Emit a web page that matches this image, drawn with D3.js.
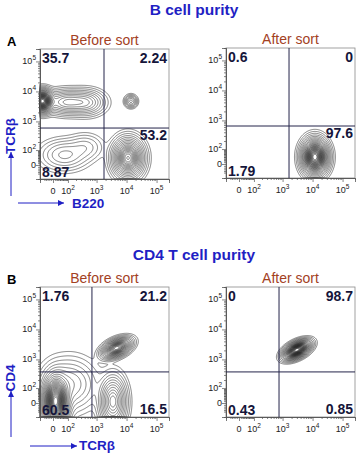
<!doctype html>
<html>
<head>
<meta charset="utf-8"/>
<script src="https://cdn.jsdelivr.net/npm/d3@7"></script>
<style>
body{margin:0;background:#fff;}
svg{display:block;font-family:"Liberation Sans",Arial,sans-serif;}
</style>
</head>
<body>
<svg width="361" height="455"></svg>
<script>
// logicle-like display: asinh axis, one decade ~ 30px
var C = 70.6
function T(v) { return Math.asinh(v / C) / Math.LN10 }

var titles = ["B cell purity", "CD4 T cell purity"]
var rowLetters = ["A", "B"]
var sortLabels = ["Before sort", "After sort"]
var xNames = ["B220", "TCR\u03b2"]
var yNames = ["TCR\u03b2", "CD4"]

var majorTicks = [0, 1e2, 1e3, 1e4, 1e5]
var tickLabels = [["0"], ["10", "2"], ["10", "3"], ["10", "4"], ["10", "5"]]

// gates [x, y] in fluorescence units
var gateA1 = [1770, 600]
var gateA2 = [1640, 650]
var gateB1 = [700, 380]
var gateB2 = [760, 380]

// quadrant % : upper-left, upper-right, lower-right, lower-left
var quadA1 = ["35.7", "2.24", "53.2", "8.87"]
var quadA2 = ["0.6", "0", "97.6", "1.79"]
var quadB1 = ["1.76", "21.2", "16.5", "60.5"]
var quadB2 = ["0", "98.7", "0.85", "0.43"]

// populations: centre (x, y), spread in decades (sx, sy), correlation r, weight w
var popsA1 = [
  {x: -63, y: 4760, sx: 0.16, sy: 0.17, r: 0, w: 1.0},
  {x: 90, y: 4400, sx: 0.36, sy: 0.19, r: 0, w: 0.5},
  {x: 450, y: 4300, sx: 0.3, sy: 0.2, r: 0, w: 0.3},
  {x: 14000, y: 4700, sx: 0.1, sy: 0.1, r: 0, w: 0.035},
  {x: 11200, y: 40, sx: 0.24, sy: 0.3, r: 0, w: 1.5},
  {x: 70, y: 60, sx: 0.4, sy: 0.25, r: 0, w: 0.25},
  {x: 420, y: 130, sx: 0.3, sy: 0.22, r: 0, w: 0.08}
]
var popsA2 = [
  {x: 12000, y: 40, sx: 0.2, sy: 0.27, r: 0, w: 1.0}
]
var popsB1 = [
  {x: 14, y: 8, sx: 0.2, sy: 0.4, r: 0, w: 1.4},
  {x: 110, y: 140, sx: 0.45, sy: 0.42, r: 0, w: 0.3},
  {x: 3500, y: 8, sx: 0.21, sy: 0.4, r: 0, w: 0.45},
  {x: 4700, y: 2400, sx: 0.22, sy: 0.15, r: 0.45, w: 0.33}
]
var popsB2 = [
  {x: 3000, y: 2080, sx: 0.2, sy: 0.14, r: 0.5, w: 1.0}
]

var levels = [0.003, 0.007, 0.014, 0.025, 0.04, 0.06, 0.085, 0.115, 0.15]
  .concat(d3.range(0.19, 0.98, 0.04))

var svg = d3.select("svg")
var W = 129, H = 130
var xs = d3.scaleLinear().domain([-13 / 30, (W - 13) / 30]).range([0, W])
var ys = d3.scaleLinear().domain([-14 / 30, (H - 14) / 30]).range([H, 0])

var minorTicks = []
for (var k = 1; k <= 4; k++) for (var m = 2; m <= 9; m++) minorTicks.push(m * Math.pow(10, k))
;[-10, -20, -30, -40, -50, 10, 20, 30, 40, 50, 60, 70, 80, 90].forEach(v => minorTicks.push(v))

var panels = [
  {x0: 40, y0: 49, gate: gateA1, quad: quadA1, pops: popsA1, row: 0},
  {x0: 226, y0: 48, gate: gateA2, quad: quadA2, pops: popsA2, row: 0},
  {x0: 40, y0: 287, gate: gateB1, quad: quadB1, pops: popsB1, row: 1},
  {x0: 226, y0: 287, gate: gateB2, quad: quadB2, pops: popsB2, row: 1}
]

function density(pops) {
  var kk = 2, nx = W * kk, ny = H * kk
  var vals = new Float64Array(nx * ny)
  var cl = pops.map(c => ({mx: T(c.x), my: T(c.y), sx: c.sx, sy: c.sy, r: c.r,
    a: c.w / (2 * Math.PI * c.sx * c.sy * Math.sqrt(1 - c.r * c.r))}))
  for (var j = 0; j < ny; j++) {
    var ty = ys.invert((j + 0.5) / kk)
    for (var i = 0; i < nx; i++) {
      var tx = xs.invert((i + 0.5) / kk), s = 0
      cl.forEach(c => {
        var dx = (tx - c.mx) / c.sx, dy = (ty - c.my) / c.sy
        var q = (dx * dx - 2 * c.r * dx * dy + dy * dy) / (1 - c.r * c.r)
        s += c.a * Math.exp(-q / 2)
      })
      vals[j * nx + i] = s
    }
  }
  var mx = d3.max(vals)
  return d3.contours().size([nx, ny]).thresholds(levels.map(l => l * mx))(vals)
}

panels.forEach(p => {
  var g = svg.append("g").attr("transform", "translate(" + p.x0 + "," + p.y0 + ")")

  g.append("g").selectAll("path")
    .data(density(p.pops))
    .join("path")
    .attr("d", d3.geoPath(d3.geoIdentity().scale(0.5)))
    .attr("fill", "none")
    .attr("stroke", "#1c1c1c")
    .attr("stroke-width", 0.55)

  g.append("rect").attr("width", W).attr("height", H)
    .attr("fill", "none").attr("stroke", "#8a8a8a").attr("stroke-width", 0.8)

  // axes
  var inX = v => T(v) >= xs.domain()[0] && T(v) <= xs.domain()[1]
  var inY = v => T(v) >= ys.domain()[0] && T(v) <= ys.domain()[1]
  var ax1 = g.append("g").attr("transform", "translate(0," + H + ")")
    .call(d3.axisBottom(xs).tickValues(majorTicks.map(T)).tickSize(4).tickFormat(""))
  var ax2 = g.append("g").attr("transform", "translate(0," + H + ")")
    .call(d3.axisBottom(xs).tickValues(minorTicks.filter(inX).map(T)).tickSize(2).tickFormat(""))
  var ay1 = g.append("g")
    .call(d3.axisLeft(ys).tickValues(majorTicks.map(T)).tickSize(4).tickFormat(""))
  var ay2 = g.append("g")
    .call(d3.axisLeft(ys).tickValues(minorTicks.filter(inY).map(T)).tickSize(2).tickFormat(""))
  ;[ax1, ax2, ay1, ay2].forEach(a => {
    a.select(".domain").attr("stroke", "#555").attr("stroke-width", 0.8)
    a.selectAll("line").attr("stroke", "#555").attr("stroke-width", 0.7)
  })

  majorTicks.forEach((v, i) => {
    var lab = tickLabels[i]
    var tx = g.append("text").attr("x", xs(T(v))).attr("y", H + 15)
      .attr("text-anchor", "middle").attr("font-size", 9).attr("fill", "#222")
    var ty = g.append("text").attr("x", -4).attr("y", ys(T(v)) + 3)
      .attr("text-anchor", "end").attr("font-size", 9).attr("fill", "#222")
    ;[tx, ty].forEach(t => {
      t.append("tspan").text(lab[0])
      if (lab[1]) t.append("tspan").attr("dy", -4).attr("font-size", 6.5).text(lab[1])
    })
  })

  // quadrant gates
  var gx = xs(T(p.gate[0])), gy = ys(T(p.gate[1]))
  g.append("line").attr("x1", gx).attr("x2", gx).attr("y1", 0).attr("y2", H)
    .attr("stroke", "#24244a").attr("stroke-width", 1)
  g.append("line").attr("x1", 0).attr("x2", W).attr("y1", gy).attr("y2", gy)
    .attr("stroke", "#24244a").attr("stroke-width", 1)

  var qpos = [
    [2, 14, "start"],
    [W - 2, 14, "end"],
    [W - 2, p.row === 0 ? gy + 12 : H - 3, "end"],
    [2, H - 2, "start"]
  ]
  p.quad.forEach((q, i) => {
    g.append("text").attr("x", qpos[i][0]).attr("y", qpos[i][1])
      .attr("text-anchor", qpos[i][2]).attr("font-size", 14).attr("font-weight", "bold")
      .attr("fill", "#15153a").text(q)
  })

  g.append("text").attr("x", W / 2).attr("y", -4).attr("text-anchor", "middle")
    .attr("font-size", 14).attr("fill", "#a3411f")
    .text(sortLabels[p.x0 > 100 ? 1 : 0])
})

var blue = "#1f1fc4"
var rowY = [0, 238]
rowY.forEach((dy, r) => {
  svg.append("text").attr("x", 194).attr("y", 15 + dy + (r ? 7 : 0)).attr("text-anchor", "middle")
    .attr("font-size", 15.5).attr("font-weight", "bold").attr("fill", blue).text(titles[r])
  svg.append("text").attr("x", 7).attr("y", 46 + dy).attr("font-size", 13)
    .attr("font-weight", "bold").attr("fill", "#000").text(rowLetters[r])
})

function arrow(x1, y1, x2, y2) {
  svg.append("line").attr("x1", x1).attr("y1", y1).attr("x2", x2).attr("y2", y2)
    .attr("stroke", blue).attr("stroke-width", 1)
  var a = Math.atan2(y2 - y1, x2 - x1), L = 6, Wd = 3
  var pts = [[x2, y2],
    [x2 - L * Math.cos(a) + Wd * Math.sin(a), y2 - L * Math.sin(a) - Wd * Math.cos(a)],
    [x2 - L * Math.cos(a) - Wd * Math.sin(a), y2 - L * Math.sin(a) + Wd * Math.cos(a)]]
  svg.append("path").attr("d", "M" + pts.join("L") + "Z").attr("fill", blue)
}

// row A axis names
arrow(18, 203, 64, 203)
svg.append("text").attr("x", 72).attr("y", 208).attr("font-size", 13.5)
  .attr("font-weight", "bold").attr("fill", blue).text(xNames[0])
arrow(11, 196, 11, 152)
svg.append("text").attr("transform", "translate(15,136) rotate(-90)")
  .attr("text-anchor", "middle").attr("font-size", 13.5)
  .attr("font-weight", "bold").attr("fill", blue).text(yNames[0])

// row B axis names
arrow(30, 446, 77, 446)
svg.append("text").attr("x", 79).attr("y", 450).attr("font-size", 13.5)
  .attr("font-weight", "bold").attr("fill", blue).text(xNames[1])
arrow(11, 437, 11, 391)
svg.append("text").attr("transform", "translate(15,378) rotate(-90)")
  .attr("text-anchor", "middle").attr("font-size", 13.5)
  .attr("font-weight", "bold").attr("fill", blue).text(yNames[1])
</script>
</body>
</html>
